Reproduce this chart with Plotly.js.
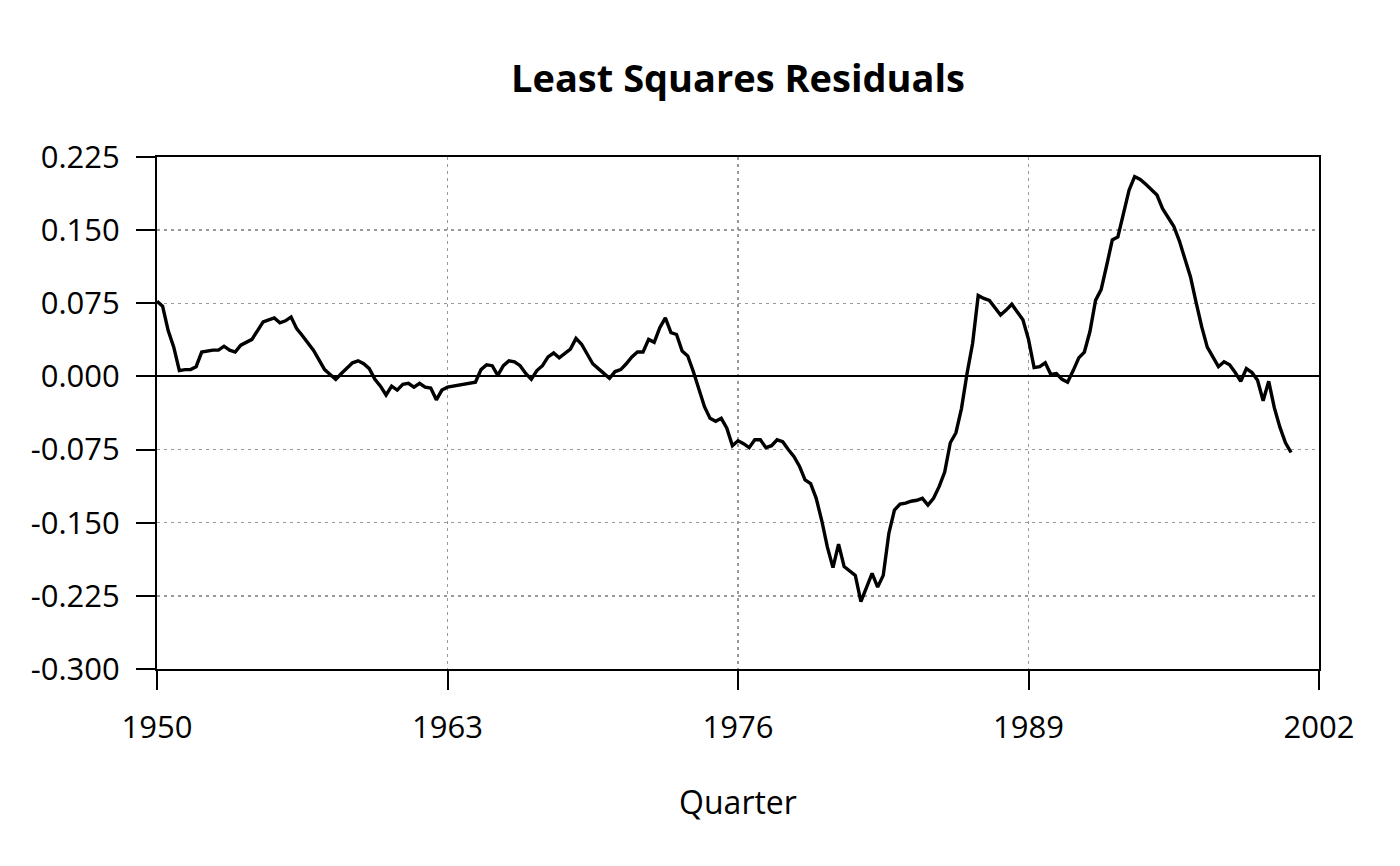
<!DOCTYPE html>
<html>
<head>
<meta charset="utf-8">
<script src="https://cdn.plot.ly/plotly-3.0.1.min.js"></script>
<style>html,body{margin:0;padding:0;background:#fff;}#chart{width:1400px;height:866px;}</style>
</head>
<body>
<div id="chart"></div>
<script>
// Quarterly residuals, 1950Q1 .. 2000Q4
const startYear = 1950;
const residuals = [
  0.077, 0.072, 0.047, 0.030, 0.006, 0.007, 0.007, 0.010, 0.025, 0.026,
  0.027, 0.027, 0.031, 0.027, 0.025, 0.032, 0.035, 0.038, 0.047, 0.056,
  0.058, 0.060, 0.055, 0.057, 0.061, 0.049, 0.042, 0.034, 0.027, 0.017,
  0.007, 0.002, -0.003, 0.003, 0.008, 0.014, 0.016, 0.013, 0.008, -0.003,
  -0.010, -0.019, -0.010, -0.014, -0.008, -0.007, -0.011, -0.007, -0.011, -0.012,
  -0.024, -0.014, -0.011, -0.010, -0.009, -0.008, -0.007, -0.006, 0.007, 0.012,
  0.011, 0.001, 0.011, 0.016, 0.015, 0.011, 0.003, -0.003, 0.006, 0.011,
  0.020, 0.024, 0.019, 0.023, 0.028, 0.039, 0.033, 0.023, 0.013, 0.008,
  0.003, -0.002, 0.005, 0.007, 0.013, 0.020, 0.025, 0.025, 0.038, 0.035,
  0.050, 0.060, 0.045, 0.043, 0.026, 0.021, 0.005, -0.014, -0.031, -0.043,
  -0.046, -0.043, -0.053, -0.071, -0.066, -0.069, -0.073, -0.065, -0.065, -0.073,
  -0.071, -0.065, -0.067, -0.075, -0.082, -0.092, -0.106, -0.110, -0.125, -0.148,
  -0.175, -0.196, -0.172, -0.195, -0.199, -0.204, -0.231, -0.216, -0.202, -0.216,
  -0.204, -0.161, -0.137, -0.131, -0.130, -0.128, -0.127, -0.125, -0.132, -0.125,
  -0.113, -0.098, -0.068, -0.058, -0.033, 0.003, 0.034, 0.083, 0.080, 0.078,
  0.070, 0.063, 0.068, 0.074, 0.066, 0.058, 0.038, 0.009, 0.010, 0.014,
  0.002, 0.003, -0.003, -0.006, 0.006, 0.019, 0.025, 0.046, 0.078, 0.089,
  0.114, 0.140, 0.143, 0.167, 0.191, 0.205, 0.202, 0.197, 0.192, 0.186,
  0.172, 0.163, 0.154, 0.139, 0.120, 0.102, 0.076, 0.051, 0.030, 0.020,
  0.010, 0.015, 0.012, 0.004, -0.005, 0.008, 0.004, -0.004, -0.025, -0.005,
  -0.032, -0.052, -0.068, -0.078
];
const quarters = residuals.map((_, i) => startYear + i / 4);

const xTickVals = [1950, 1963, 1976, 1989, 2002];
const xTickText = ["1950", "1963", "1976", "1989", "2002"];
const yTickVals = [0.225, 0.150, 0.075, 0.000, -0.075, -0.150, -0.225, -0.300];
const yTickText = ["0.225", "0.150", "0.075", "0.000", "-0.075", "-0.150", "-0.225", "-0.300"];

const trace = {
  x: quarters,
  y: residuals,
  type: "scatter",
  mode: "lines",
  line: {color: "#000", width: 3.4},
  hoverinfo: "x+y"
};

const font = {family: "Open Sans, Noto Sans, sans-serif", color: "#000"};

const layout = {
  width: 1400,
  height: 866,
  margin: {l: 157, r: 81, t: 157, b: 197},
  paper_bgcolor: "#fff",
  plot_bgcolor: "#fff",
  showlegend: false,
  font: Object.assign({}, font, {size: 31}),
  title: {
    text: "Least Squares Residuals",
    font: Object.assign({}, font, {size: 38, weight: "bold"}),
    x: 0.5, xref: "paper", xanchor: "center",
    y: 1 - 79 / 866, yref: "container", yanchor: "middle"
  },
  xaxis: {
    range: [1950, 2002],
    tickvals: xTickVals,
    ticktext: xTickText,
    ticks: "outside", ticklen: 19, tickwidth: 2, tickcolor: "#000",
    showline: true, linecolor: "#000", linewidth: 2, mirror: true,
    showgrid: true, gridcolor: "#999", griddash: "3px,4px", gridwidth: 1.5,
    zeroline: false,
    tickfont: Object.assign({}, font, {size: 31}),
    ticklabelstandoff: 11,
    title: {text: "Quarter", font: Object.assign({}, font, {size: 32}), standoff: 45}
  },
  yaxis: {
    range: [-0.3, 0.225],
    tickvals: yTickVals,
    ticktext: yTickText,
    ticks: "outside", ticklen: 19, tickwidth: 2, tickcolor: "#000",
    showline: true, linecolor: "#000", linewidth: 2, mirror: true,
    showgrid: true, gridcolor: "#999", griddash: "3px,4px", gridwidth: 1.5,
    zeroline: true, zerolinecolor: "#000", zerolinewidth: 2,
    tickfont: Object.assign({}, font, {size: 31}),
    ticklabelstandoff: 10
  }
};

Plotly.newPlot("chart", [trace], layout, {displayModeBar: false, staticPlot: true});
</script>
</body>
</html>
